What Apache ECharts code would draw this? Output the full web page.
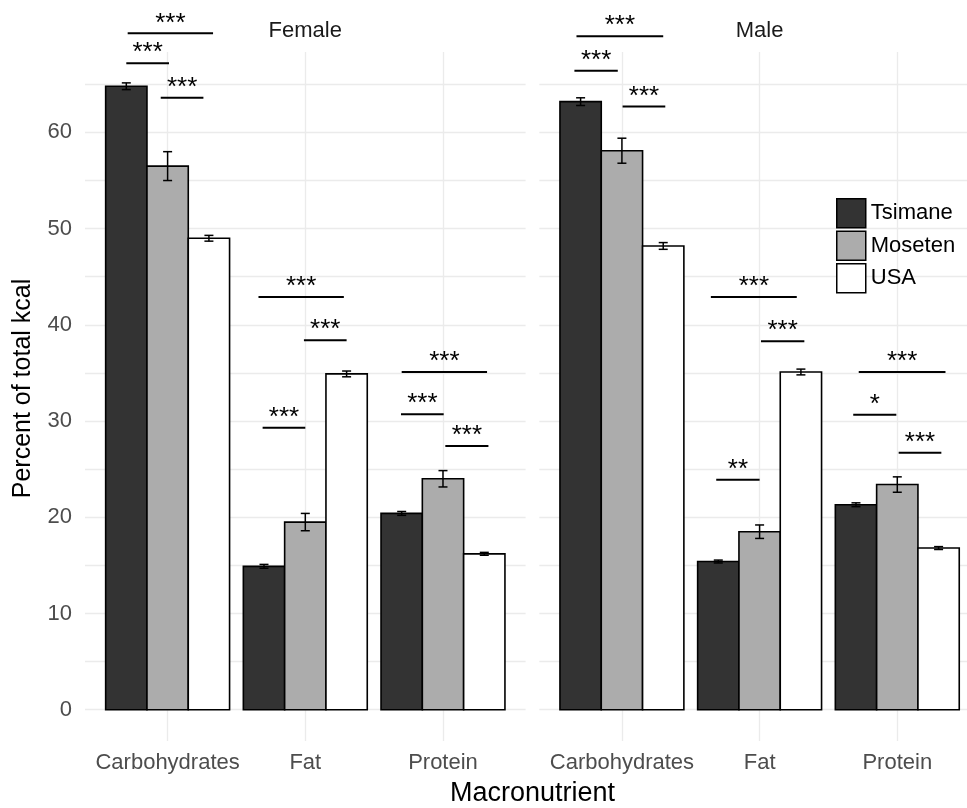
<!DOCTYPE html>
<html>
<head>
<meta charset="utf-8">
<script src="https://cdn.jsdelivr.net/npm/echarts@6/dist/echarts.min.js"></script>
<style>
html,body{margin:0;padding:0;background:#fff;}
#chart{width:967px;height:808px;}
</style>
</head>
<body>
<div id="chart"></div>
<script>
// ---- data ----
const categories = ['Carbohydrates', 'Fat', 'Protein'];
const groups = ['Tsimane', 'Moseten', 'USA'];
const panels = ['Female', 'Male'];
const yTickLabels = [0, 10, 20, 30, 40, 50, 60];

const femaleTsimane = [64.8, 14.9, 20.4];
const femaleMoseten = [56.5, 19.5, 24.0];
const femaleUSA     = [49.0, 34.9, 16.2];
const maleTsimane   = [63.2, 15.4, 21.3];
const maleMoseten   = [58.1, 18.5, 23.4];
const maleUSA       = [48.2, 35.1, 16.8];

const femaleTsimaneSE = [0.35, 0.2, 0.2];
const femaleMosetenSE = [1.5, 0.9, 0.85];
const femaleUSASE     = [0.3, 0.3, 0.15];
const maleTsimaneSE   = [0.4, 0.15, 0.2];
const maleMosetenSE   = [1.3, 0.7, 0.8];
const maleUSASE       = [0.35, 0.3, 0.15];

// significance brackets: [category index, from offset, to offset, y value]
const femaleSig = [
  [0, -0.29, 0.33, 70.3], [0, -0.30, 0.01, 67.2], [0, -0.05, 0.26, 63.6],
  [1, -0.34, 0.28, 42.9], [1, -0.01, 0.30, 38.4], [1, -0.31, 0.0, 29.3],
  [2, -0.30, 0.32, 35.1], [2, -0.305, 0.005, 30.7], [2, 0.017, 0.33, 27.4]
];
const femaleSigLabels = ['***', '***', '***', '***', '***', '***', '***', '***', '***'];
const maleSig = [
  [0, -0.33, 0.30, 70.0], [0, -0.345, -0.03, 66.4], [0, 0.005, 0.315, 62.7],
  [1, -0.354, 0.27, 42.9], [1, 0.01, 0.325, 38.3], [1, -0.315, 0.0, 23.9],
  [2, -0.28, 0.35, 35.1], [2, -0.32, -0.007, 30.65], [2, 0.01, 0.32, 26.7]
];
const maleSigLabels = ['***', '***', '***', '***', '***', '**', '***', '*', '***'];

// ---- styling ----
const FONT = "'Liberation Sans', Arial, Helvetica, sans-serif";
const groupColors = ['#333333', '#acacac', '#ffffff'];
const GRID_COLOR = '#ebebeb';

const panelMeans = [[femaleTsimane, femaleMoseten, femaleUSA], [maleTsimane, maleMoseten, maleUSA]];
const panelSE = [[femaleTsimaneSE, femaleMosetenSE, femaleUSASE], [maleTsimaneSE, maleMosetenSE, maleUSASE]];
const panelSig = [femaleSig, maleSig];
const panelSigLabels = [femaleSigLabels, maleSigLabels];

const chart = echarts.init(document.getElementById('chart'), null, {renderer: 'canvas'});

const BAR_W = 0.3;

function barRenderer(gi) {
  return function (params, api) {
    const cat = api.value(0), val = api.value(1), se = api.value(2);
    const xc = cat + 1 + (gi - 1) * BAR_W;
    const pTop = api.coord([xc - BAR_W / 2, val]);
    const pBot = api.coord([xc + BAR_W / 2, 0]);
    const c = api.coord([xc, val]);
    const hi = api.coord([xc, val + se])[1];
    const lo = api.coord([xc, val - se])[1];
    const cap = 4.5;
    const ls = {stroke: '#000', lineWidth: 1.5};
    return {
      type: 'group',
      children: [
        {type: 'rect', shape: {x: pTop[0], y: pTop[1], width: pBot[0] - pTop[0], height: pBot[1] - pTop[1]},
         style: {fill: groupColors[gi], stroke: '#000', lineWidth: 1.6}},
        {type: 'line', shape: {x1: c[0], y1: hi, x2: c[0], y2: lo}, style: ls},
        {type: 'line', shape: {x1: c[0] - cap, y1: hi, x2: c[0] + cap, y2: hi}, style: ls},
        {type: 'line', shape: {x1: c[0] - cap, y1: lo, x2: c[0] + cap, y2: lo}, style: ls}
      ]
    };
  };
}

function sigRenderer(pi) {
  return function (params, api) {
    const cat = api.value(0), from = api.value(1), to = api.value(2), y = api.value(3);
    const a = api.coord([cat + 1 + from, y]);
    const b = api.coord([cat + 1 + to, y]);
    return {
      type: 'group',
      children: [
        {type: 'line', shape: {x1: a[0], y1: a[1], x2: b[0], y2: b[1]}, style: {stroke: '#000', lineWidth: 2}},
        {type: 'text', x: (a[0] + b[0]) / 2, y: a[1] - 10,
         style: {text: panelSigLabels[pi][params.dataIndex], fill: '#000', font: '26px ' + FONT,
                 align: 'center', verticalAlign: 'middle'}}
      ]
    };
  };
}

// px per x unit = 440.6 / 3.2; right panel is cut by the page edge at 967
const grids = [
  {left: 85, top: 52, width: 440.6, height: 689},
  {left: 539.3, top: 52, width: 427.7, height: 689}
];
const xMax = [3.6, 0.4 + 427.7 / (440.6 / 3.2)];

const xAxes = [0, 1].map(i => ({
  type: 'value', gridIndex: i, min: 0.4, max: xMax[i],
  axisLine: {show: false},
  axisTick: {show: false, customValues: [1, 2, 3]},
  axisLabel: {customValues: [1, 2, 3], formatter: v => categories[Math.round(v) - 1],
              fontSize: 22, color: '#4d4d4d', fontFamily: FONT, margin: 11},
  splitLine: {show: true, lineStyle: {color: GRID_COLOR, width: 1.3}}
}));

const yAxes = [0, 1].map(i => ({
  type: 'value', gridIndex: i, min: -3.255, max: 68.36,
  axisLine: {show: false},
  axisTick: {show: false, customValues: [0, 5, 10, 15, 20, 25, 30, 35, 40, 45, 50, 55, 60, 65]},
  axisLabel: {show: i === 0, customValues: yTickLabels, fontSize: 22, color: '#4d4d4d', fontFamily: FONT, margin: 13},
  splitLine: {show: true, lineStyle: {color: GRID_COLOR, width: 1.3}}
}));

const series = [];
for (let pi = 0; pi < 2; pi++) {
  for (let gi = 0; gi < 3; gi++) {
    series.push({
      type: 'custom', name: groups[gi], xAxisIndex: pi, yAxisIndex: pi,
      itemStyle: {color: groupColors[gi], borderColor: '#000', borderWidth: 1.5},
      renderItem: barRenderer(gi),
      encode: {x: 0, y: 1},
      data: panelMeans[pi][gi].map((v, ci) => [ci, v, panelSE[pi][gi][ci]]),
      silent: true, clip: false
    });
  }
  series.push({
    type: 'custom', name: 'sig' + pi, xAxisIndex: pi, yAxisIndex: pi,
    renderItem: sigRenderer(pi),
    encode: {x: 0, y: 3},
    data: panelSig[pi],
    silent: true, clip: false
  });
}

const option = {
  animation: false,
  backgroundColor: '#ffffff',
  grid: grids,
  xAxis: xAxes,
  yAxis: yAxes,
  legend: {
    orient: 'vertical', left: 831, top: 193,
    itemWidth: 29, itemHeight: 29, itemGap: 2,
    selectedMode: false,
    textStyle: {fontSize: 22, color: '#000', fontFamily: FONT},
    data: groups.map((g, gi) => ({name: g, icon: 'rect',
      itemStyle: {color: groupColors[gi], borderColor: '#000', borderWidth: 1.5}}))
  },
  graphic: [
    {type: 'text', x: 305.3, y: 30.6, style: {text: panels[0], font: '22px ' + FONT, fill: '#1a1a1a', align: 'center', verticalAlign: 'middle'}},
    {type: 'text', x: 759.6, y: 30.6, style: {text: panels[1], font: '22px ' + FONT, fill: '#1a1a1a', align: 'center', verticalAlign: 'middle'}},
    {type: 'text', x: 23, y: 388.5, rotation: Math.PI / 2, style: {text: 'Percent of total kcal', font: '25px ' + FONT, fill: '#000', align: 'center', verticalAlign: 'middle'}},
    {type: 'text', x: 532.5, y: 794, style: {text: 'Macronutrient', font: '27px ' + FONT, fill: '#000', align: 'center', verticalAlign: 'middle'}}
  ],
  series: series
};
chart.setOption(option);
</script>
</body>
</html>
